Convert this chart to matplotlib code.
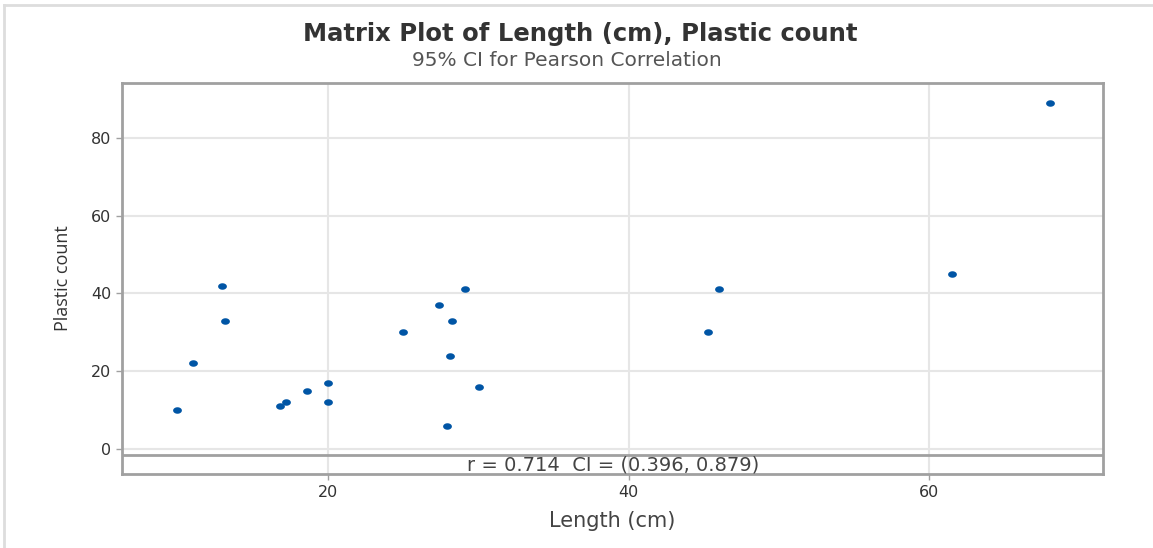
import matplotlib.pyplot as plt
import numpy as np
from matplotlib.path import Path
from matplotlib.lines import Line2D

length_cm = [9.9, 11.0, 12.9, 13.1, 16.8, 17.2, 18.6, 20.0, 20.0, 25.0,
             27.4, 29.1, 28.2, 28.1, 27.9, 30.0, 45.3, 46.0, 61.5, 68.0]
plastic_count = [10, 22, 42, 33, 11, 12, 15, 17, 12, 30,
                 37, 41, 33, 24, 6, 16, 30, 41, 45, 89]

x_ticks = [20, 40, 60]
y_ticks = [0, 20, 40, 60, 80]
stat_text = "r = 0.714  CI = (0.396, 0.879)"

plt.rcParams['font.family'] = ['DejaVu Sans']

# slightly wide dot, like the original
t = np.linspace(0, 2 * np.pi, 40)
dot = Path(np.column_stack([1.35 * np.cos(t), np.sin(t)]))

fig = plt.figure(figsize=(11.53, 5.48), dpi=100)
ax = fig.add_axes([122 / 1153, 1 - 474.3 / 548, 981.3 / 1153, 391.6 / 548])

ax.scatter(length_cm, plastic_count, marker=dot, s=40, color='#0055a5',
           zorder=3, linewidths=0)

ax.set_xlim(6.27, 71.58)
ax.set_ylim(-6.5, 94.14)
ax.set_xticks(x_ticks)
ax.set_yticks(y_ticks)
ax.grid(True, color='#e6e6e6', linewidth=1.5, zorder=0)
ax.set_axisbelow(True)

for s in ax.spines.values():
    s.set_color('#a0a0a0')
    s.set_linewidth(2)
ax.tick_params(colors='#a0a0a0', labelcolor='#333333', labelsize=11.5,
               length=4, width=1)

# r / CI strip at the bottom
ax.axhline(-1.54, color='#a0a0a0', linewidth=2, zorder=2)
ax.text(0.5, (-1.54 - 6.5) / 2, stat_text, transform=ax.get_yaxis_transform(),
        ha='center', va='center', fontsize=14, color='#444444', zorder=4)

ax.set_xlabel("Length (cm)", fontsize=15, color='#444444', labelpad=8)
ax.set_ylabel("Plastic count", fontsize=13, color='#333333', labelpad=14,
              family='Open Sans')

fig.text(0.5035, 1 - 34 / 548, "Matrix Plot of Length (cm), Plastic count",
         ha='center', va='center', fontsize=17.5, fontweight='bold',
         color='#333333')
fig.text(0.4915, 1 - 60 / 548, "95% CI for Pearson Correlation",
         ha='center', va='center', fontsize=14.5, color='#555555')

# light frame lines of the screenshot
fig.add_artist(Line2D([4 / 1153, 4 / 1153], [0, 1 - 5 / 548],
                      transform=fig.transFigure, color='#dddddd', linewidth=2))
fig.add_artist(Line2D([4 / 1153, 1], [1 - 5 / 548, 1 - 5 / 548],
                      transform=fig.transFigure, color='#dddddd', linewidth=2))

fig.savefig("out.png", dpi=100)
